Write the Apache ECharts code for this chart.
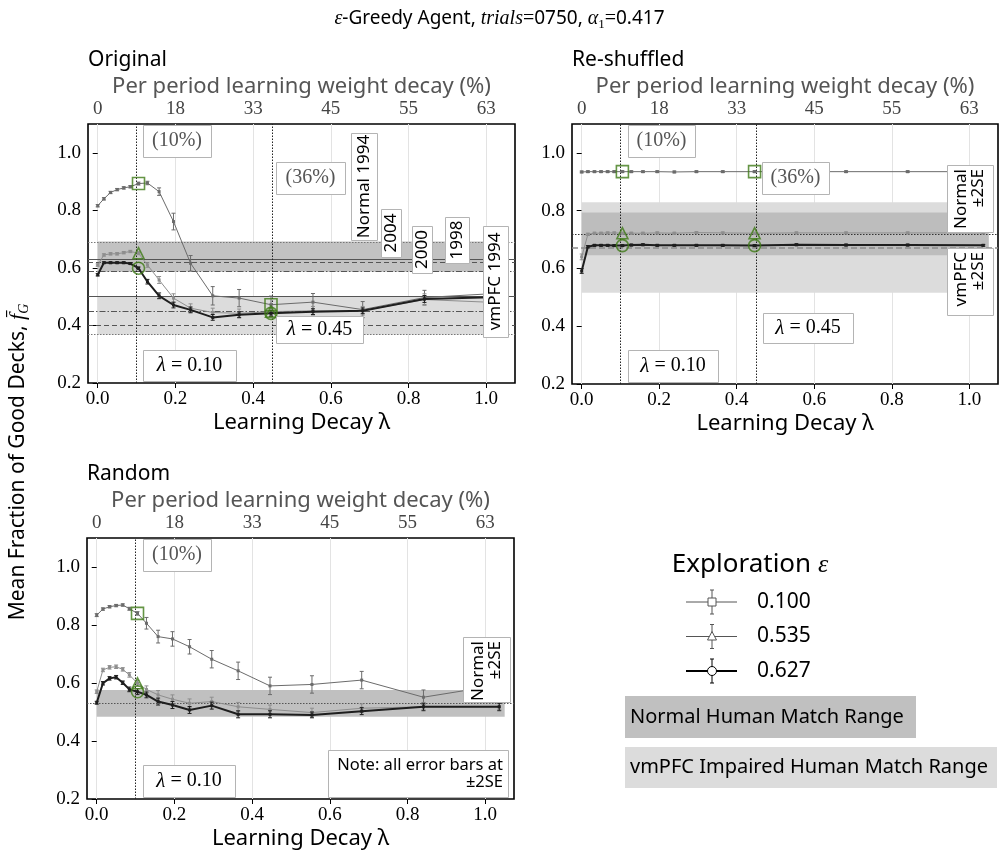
<!DOCTYPE html>
<html>
<head>
<meta charset="utf-8">
<script src="https://cdn.jsdelivr.net/npm/echarts@6/dist/echarts.min.js"></script>
<style>
  html, body { margin: 0; padding: 0; background: #fff; }
  #c { width: 999px; height: 859px; }
</style>
</head>
<body>
<div id="c"></div>
<script>
const SANS = '"Noto Sans", "DejaVu Sans", sans-serif';
const SERIF = '"Liberation Serif", "DejaVu Serif", serif';
const GREEN = '#3f7a16';

// Learning decay values (lambda) shared by all three deck conditions
const lambdas = [0, 0.016, 0.033, 0.05, 0.067, 0.084, 0.105, 0.128, 0.158, 0.195, 0.239, 0.296, 0.364, 0.446, 0.554, 0.682, 0.841, 1.036];
const xTicks = [0, 0.2, 0.4, 0.6, 0.8, 1.0];
const topTickLabels = ['0', '18', '33', '45', '55', '63'];
const yTicks = [0.2, 0.4, 0.6, 0.8, 1.0];
const epsilonLabels = ['0.100', '0.535', '0.627'];
const panelTitles = ['Original', 'Re-shuffled', 'Random'];

// Original deck order
const origEps100 = [0.816, 0.840, 0.862, 0.872, 0.878, 0.882, 0.893, 0.895, 0.865, 0.761, 0.616, 0.503, 0.495, 0.472, 0.481, 0.455, 0.497, 0.512];
const origEps100Err = [0.004, 0.004, 0.004, 0.004, 0.004, 0.004, 0.005, 0.006, 0.013, 0.029, 0.027, 0.032, 0.030, 0.030, 0.030, 0.028, 0.025, 0.020];
const origEps535 = [0.610, 0.645, 0.649, 0.649, 0.653, 0.657, 0.651, 0.610, 0.558, 0.495, 0.460, 0.445, 0.442, 0.448, 0.451, 0.451, 0.490, 0.479];
const origEps535Err = [0.004, 0.004, 0.004, 0.004, 0.004, 0.004, 0.005, 0.008, 0.012, 0.015, 0.015, 0.015, 0.015, 0.015, 0.015, 0.015, 0.020, 0.015];
const origEps627 = [0.576, 0.618, 0.618, 0.618, 0.618, 0.615, 0.599, 0.552, 0.503, 0.471, 0.454, 0.428, 0.437, 0.442, 0.448, 0.451, 0.492, 0.499];
const origEps627Err = [0.004, 0.003, 0.003, 0.003, 0.003, 0.003, 0.004, 0.008, 0.010, 0.010, 0.010, 0.010, 0.010, 0.010, 0.010, 0.010, 0.012, 0.010];
const origNormalBand = [0.587, 0.692];
const origVmpfcBand = [0.368, 0.499];
const origNormalLines = [0.630, 0.622, 0.595];   // 1994, 2004, 2000
const origVmpfcLines = [0.499, 0.447, 0.398];    // 1994, 1998, 2004

// Re-shuffled deck order
const reshEps100 = [0.934, 0.935, 0.935, 0.935, 0.935, 0.935, 0.935, 0.935, 0.935, 0.935, 0.934, 0.935, 0.935, 0.935, 0.935, 0.935, 0.935, 0.935];
const reshEps100Err = [0.003, 0.003, 0.003, 0.003, 0.003, 0.003, 0.003, 0.003, 0.003, 0.003, 0.003, 0.003, 0.003, 0.003, 0.003, 0.003, 0.003, 0.003];
const reshEps535 = [0.640, 0.718, 0.722, 0.722, 0.723, 0.723, 0.722, 0.722, 0.722, 0.723, 0.722, 0.724, 0.723, 0.722, 0.723, 0.723, 0.723, 0.723];
const reshEps535Err = [0.010, 0.004, 0.003, 0.003, 0.003, 0.003, 0.003, 0.003, 0.003, 0.003, 0.003, 0.003, 0.003, 0.003, 0.003, 0.003, 0.003, 0.003];
const reshEps627 = [0.591, 0.675, 0.680, 0.680, 0.680, 0.679, 0.679, 0.681, 0.682, 0.680, 0.680, 0.680, 0.680, 0.679, 0.682, 0.681, 0.681, 0.680];
const reshEps627Err = [0.008, 0.004, 0.003, 0.003, 0.003, 0.003, 0.003, 0.003, 0.003, 0.003, 0.003, 0.003, 0.003, 0.003, 0.003, 0.003, 0.003, 0.003];
const reshNormalBand = [0.646, 0.794];
const reshVmpfcBand = [0.516, 0.829];
const reshNormalMean = 0.721;
const reshVmpfcMean = 0.672;

// Random deck order
const randEps100 = [0.834, 0.855, 0.863, 0.867, 0.869, 0.856, 0.840, 0.806, 0.760, 0.752, 0.725, 0.682, 0.642, 0.590, 0.595, 0.610, 0.551, 0.593];
const randEps100Err = [0.005, 0.004, 0.004, 0.004, 0.004, 0.005, 0.006, 0.020, 0.022, 0.025, 0.025, 0.030, 0.030, 0.030, 0.030, 0.030, 0.025, 0.030];
const randEps535 = [0.570, 0.645, 0.654, 0.656, 0.647, 0.628, 0.599, 0.578, 0.559, 0.544, 0.530, 0.536, 0.518, 0.509, 0.498, 0.513, 0.518, 0.518];
const randEps535Err = [0.006, 0.006, 0.006, 0.006, 0.006, 0.008, 0.010, 0.012, 0.015, 0.015, 0.015, 0.015, 0.015, 0.015, 0.015, 0.015, 0.015, 0.015];
const randEps627 = [0.532, 0.599, 0.616, 0.620, 0.601, 0.578, 0.570, 0.559, 0.536, 0.524, 0.507, 0.522, 0.492, 0.492, 0.490, 0.503, 0.518, 0.518];
const randEps627Err = [0.005, 0.006, 0.006, 0.006, 0.006, 0.008, 0.010, 0.010, 0.012, 0.012, 0.012, 0.012, 0.012, 0.012, 0.010, 0.012, 0.012, 0.012];
const randNormalBand = [0.484, 0.576];
const randNormalMean = 0.528;

const bandSpan = [0, 1.05];
const highlightLambdas = [0.105, 0.446];

const seriesStyles = [
  { color: '#6b6b6b', width: 1, mark: 'rect', markSize: 12 },
  { color: '#8e8e8e', width: 1, mark: 'triangle', markSize: 11 },
  { color: '#1e1e1e', width: 2, mark: 'circle', markSize: 12 }
];

const DASH = [5, 3];
const DASHDOT = [6, 2, 1.5, 2];
const DOT = [1.5, 1.5];

const panels = [
  {
    grid: { left: 88, top: 124, width: 427, height: 259 },
    data: [[origEps100, origEps100Err], [origEps535, origEps535Err], [origEps627, origEps627Err]],
    marks: highlightLambdas,
    bands: [
      { r: origVmpfcBand, color: '#dcdcdc' },
      { r: origNormalBand, color: '#c2c2c2' }
    ],
    lines: [
      { v: origNormalBand[1], type: DOT, color: '#777' },
      { v: origNormalLines[0], type: 'solid', color: '#555' },
      { v: origNormalLines[1], type: DASH, color: '#555' },
      { v: origNormalLines[2], type: DASHDOT, color: '#555' },
      { v: origVmpfcLines[0], type: 'solid', color: '#555' },
      { v: origVmpfcLines[1], type: DASHDOT, color: '#555' },
      { v: origVmpfcLines[2], type: DASH, color: '#555' },
      { v: origVmpfcBand[0], type: DOT, color: '#777' }
    ]
  },
  {
    grid: { left: 572, top: 124, width: 426, height: 260 },
    data: [[reshEps100, reshEps100Err], [reshEps535, reshEps535Err], [reshEps627, reshEps627Err]],
    marks: highlightLambdas,
    bands: [
      { r: reshVmpfcBand, color: '#dcdcdc' },
      { r: reshNormalBand, color: '#bdbdbd' }
    ],
    lines: [
      { v: reshNormalMean, type: DOT, color: '#333' },
      { v: reshVmpfcMean, type: [6, 3], color: '#8a8a8a', width: 1.5 }
    ]
  },
  {
    grid: { left: 87, top: 538, width: 427, height: 261 },
    data: [[randEps100, randEps100Err], [randEps535, randEps535Err], [randEps627, randEps627Err]],
    marks: [highlightLambdas[0]],
    bands: [
      { r: randNormalBand, color: '#c0c0c0' }
    ],
    lines: [
      { v: randNormalMean, type: DOT, color: '#555' }
    ]
  }
];

const grids = [], xAxes = [], yAxes = [], series = [];

panels.forEach((p, i) => {
  grids.push(Object.assign({ show: true, borderColor: '#000', borderWidth: 1.6, backgroundColor: 'transparent', outerBoundsMode: 'none', containLabel: false }, p.grid));
  // bottom axis: lambda
  xAxes.push({
    type: 'value', gridIndex: i, position: 'bottom', min: -0.025, max: 1.074,
    axisLine: { show: false },
    axisTick: { show: true, customValues: xTicks, length: 5, lineStyle: { color: '#000', width: 1 } },
    axisLabel: { customValues: xTicks, formatter: v => v.toFixed(1), fontFamily: SERIF, fontSize: 19, color: '#000', margin: 7 },
    splitLine: { show: true, lineStyle: { color: '#e3e3e3', width: 1 } },
    name: 'Learning Decay λ', nameLocation: 'middle', nameGap: 29,
    nameTextStyle: { fontFamily: SANS, fontSize: 22, color: '#000' }
  });
  // top axis: per-period weight decay in percent
  xAxes.push({
    type: 'value', gridIndex: i, position: 'top', min: -0.025, max: 1.074,
    axisLine: { show: false },
    axisTick: { show: false },
    axisLabel: {
      customValues: xTicks,
      formatter: v => { const k = xTicks.findIndex(t => Math.abs(t - v) < 1e-6); return k >= 0 ? topTickLabels[k] : ''; },
      fontFamily: SERIF, fontSize: 19, color: '#444', margin: 5
    },
    splitLine: { show: false },
    name: 'Per period learning weight decay (%)', nameLocation: 'middle', nameGap: 26,
    nameTextStyle: { fontFamily: SANS, fontSize: 22, color: '#555' }
  });
  yAxes.push({
    type: 'value', gridIndex: i, min: 0.2, max: 1.1,
    axisLine: { show: false },
    axisTick: { show: true, customValues: yTicks, length: 5, lineStyle: { color: '#000', width: 1 } },
    axisLabel: { customValues: yTicks, formatter: v => v.toFixed(1), fontFamily: SERIF, fontSize: 19, color: '#000', margin: 7 },
    splitLine: { show: false }
  });

  const xi = 2 * i;
  // reference bands and lines
  series.push({
    type: 'line', xAxisIndex: xi, yAxisIndex: i, data: [], z: 1, silent: true, animation: false,
    markArea: {
      silent: true, z: 1, animation: false,
      data: p.bands.map(b => [
        { xAxis: bandSpan[0], yAxis: b.r[0], itemStyle: { color: b.color, borderWidth: 0 } },
        { xAxis: bandSpan[1], yAxis: b.r[1] }
      ])
    },
    markLine: {
      silent: true, z: 2, animation: false, symbol: ['none', 'none'], label: { show: false },
      data: p.lines.map(l => ({ yAxis: l.v, lineStyle: { type: l.type, color: l.color, width: l.width || 1 } }))
        .concat(p.marks.map(m => ({ xAxis: m, lineStyle: { type: DOT, color: '#222', width: 1 } })))
    }
  });

  p.data.forEach(([vals, errs], s) => {
    const st = seriesStyles[s];
    series.push({
      type: 'custom', xAxisIndex: xi, yAxisIndex: i, z: 3 + s, silent: true, animation: false,
      data: lambdas.map((x, k) => [x, vals[k], errs[k]]),
      encode: { x: 0, y: 1 },
      renderItem(params, api) {
        const x = api.value(0), y = api.value(1), e = api.value(2);
        const hi = api.coord([x, y + e]), lo = api.coord([x, y - e]);
        const c = 2;
        const ls = { stroke: st.color, lineWidth: 1 };
        return {
          type: 'group', children: [
            { type: 'line', shape: { x1: hi[0], y1: hi[1], x2: lo[0], y2: lo[1] }, style: ls },
            { type: 'line', shape: { x1: hi[0] - c, y1: hi[1], x2: hi[0] + c, y2: hi[1] }, style: ls },
            { type: 'line', shape: { x1: lo[0] - c, y1: lo[1], x2: lo[0] + c, y2: lo[1] }, style: ls }
          ]
        };
      }
    });
    series.push({
      type: 'line', name: epsilonLabels[s], xAxisIndex: xi, yAxisIndex: i, z: 3 + s, silent: true, animation: false,
      data: lambdas.map((x, k) => [x, vals[k]]),
      symbol: 'rect', symbolSize: 3, showSymbol: true,
      lineStyle: { color: st.color, width: st.width },
      itemStyle: { color: st.color }
    });
    series.push({
      type: 'scatter', xAxisIndex: xi, yAxisIndex: i, z: 8, silent: true, animation: false,
      symbol: st.mark, symbolSize: st.markSize,
      itemStyle: { color: 'rgba(0,0,0,0)', borderColor: GREEN, borderWidth: 1.6 },
      data: p.marks.map(m => { const k = lambdas.indexOf(m); return [m, vals[k]]; })
    });
  });
});

// annotation boxes: [left, top, width, height], text, options
function boxText(r, text, opt) {
  opt = opt || {};
  const els = [{
    type: 'rect', z: 20,
    shape: { x: r[0] + 0.5, y: r[1] + 0.5, width: r[2], height: r[3] },
    style: { fill: '#fff', stroke: '#b4b4b4', lineWidth: 1 }
  }];
  const style = {
    text: text, fill: opt.color || '#000',
    fontFamily: opt.font || SANS, fontSize: opt.size || 17,
    align: 'center', verticalAlign: 'middle'
  };
  if (opt.rich) style.rich = opt.rich;
  const t = { type: 'text', z: 21, style: style };
  if (opt.rot) {
    t.rotation = Math.PI / 2;
    if (opt.topAnchor) {
      t.x = r[0] + r[2] / 2; t.y = r[1] + 4;
      style.align = 'right';
    } else {
      t.x = r[0] + r[2] / 2; t.y = r[1] + r[3] / 2;
    }
  } else if (opt.rightAlign) {
    t.x = r[0] + r[2] - 5; t.y = r[1] + r[3] / 2;
    style.align = 'right';
  } else {
    t.x = r[0] + r[2] / 2; t.y = r[1] + r[3] / 2;
  }
  els.push(t);
  return els;
}

const lamRich = {
  i: { fontFamily: SERIF, fontStyle: 'italic', fontSize: 21, color: '#000' },
  n: { fontFamily: SERIF, fontSize: 20, color: '#000' }
};
const pct = { font: SERIF, size: 20, color: '#555' };

let graphics = [];
// Original
graphics = graphics.concat(
  boxText([143, 125, 68, 32], '(10%)', pct),
  boxText([276, 162, 69, 32], '(36%)', pct),
  boxText([143, 350, 93, 31], '{i|λ}{n| = 0.10}', { rich: lamRich }),
  boxText([276, 316, 87, 27], '{i|λ}{n| = 0.45}', { rich: lamRich }),
  boxText([351, 133, 26, 107], 'Normal 1994', { rot: true }),
  boxText([381, 209, 20, 48], '2004', { rot: true }),
  boxText([412, 226, 20, 47], '2000', { rot: true }),
  boxText([445, 217, 24, 46], '1998', { rot: true }),
  boxText([483, 226, 25, 111], 'vmPFC 1994', { rot: true })
);
// Re-shuffled
graphics = graphics.concat(
  boxText([628, 125, 67, 32], '(10%)', pct),
  boxText([762, 162, 67, 32], '(36%)', pct),
  boxText([628, 350, 90, 32], '{i|λ}{n| = 0.10}', { rich: lamRich }),
  boxText([763, 313, 90, 30], '{i|λ}{n| = 0.45}', { rich: lamRich }),
  boxText([947, 165, 46, 67], 'Normal\n±2SE', { rot: true, topAnchor: true }),
  boxText([947, 248, 46, 67], 'vmPFC\n±2SE', { rot: true, topAnchor: true })
);
// Random
graphics = graphics.concat(
  boxText([143, 539, 68, 32], '(10%)', pct),
  boxText([143, 765, 92, 32], '{i|λ}{n| = 0.10}', { rich: lamRich }),
  boxText([463, 637, 47, 65], 'Normal\n±2SE', { rot: true, topAnchor: true }),
  boxText([328, 750, 180, 47], 'Note: all error bars at\n±2SE', { rightAlign: true, size: 16.5 })
);

// panel titles
const titlePos = [[88, 60], [572, 60], [87, 474]];
panelTitles.forEach((t, i) => {
  graphics.push({ type: 'text', x: titlePos[i][0], y: titlePos[i][1], style: { text: t, fontFamily: SANS, fontSize: 21, fill: '#000', align: 'left', verticalAlign: 'middle' } });
});

// shared y-axis title
graphics.push({
  type: 'text', x: 18, y: 462, rotation: Math.PI / 2,
  style: {
    text: '{n|Mean Fraction of Good Decks, }{i|f̄}{s|G}',
    align: 'center', verticalAlign: 'middle',
    rich: {
      n: { fontFamily: SANS, fontSize: 21, fill: '#000', lineHeight: 26 },
      i: { fontFamily: SERIF, fontStyle: 'italic', fontSize: 22, fill: '#000', lineHeight: 26 },
      s: { fontFamily: SERIF, fontStyle: 'italic', fontSize: 14, fill: '#000', lineHeight: 16, verticalAlign: 'bottom' }
    }
  }
});

// legend for exploration rates
graphics.push({ type: 'text', x: 750, y: 565, style: {
  text: '{n|Exploration }{i|ε}', align: 'center', verticalAlign: 'middle',
  rich: { n: { fontFamily: SANS, fontSize: 26, fill: '#000' }, i: { fontFamily: SERIF, fontStyle: 'italic', fontSize: 26, fill: '#000' } }
} });
epsilonLabels.forEach((lab, k) => {
  const st = seriesStyles[k];
  const y = 602 + 34.5 * k, x = 712;
  const ls = { stroke: st.color === '#1e1e1e' ? '#000' : '#555', lineWidth: st.width };
  graphics.push({ type: 'line', shape: { x1: 686, y1: y, x2: 737, y2: y }, style: ls });
  const es = { stroke: ls.stroke, lineWidth: 1 };
  graphics.push({ type: 'line', shape: { x1: x, y1: y - 12, x2: x, y2: y + 12 }, style: es });
  graphics.push({ type: 'line', shape: { x1: x - 2, y1: y - 12, x2: x + 2, y2: y - 12 }, style: es });
  graphics.push({ type: 'line', shape: { x1: x - 2, y1: y + 12, x2: x + 2, y2: y + 12 }, style: es });
  const ms = { fill: '#fff', stroke: ls.stroke, lineWidth: 1 };
  if (st.mark === 'rect') graphics.push({ type: 'rect', shape: { x: x - 4, y: y - 4, width: 8, height: 8 }, style: ms });
  else if (st.mark === 'triangle') graphics.push({ type: 'polygon', shape: { points: [[x, y - 5], [x + 4.5, y + 3.5], [x - 4.5, y + 3.5]] }, style: ms });
  else graphics.push({ type: 'circle', shape: { cx: x, cy: y, r: 4.5 }, style: ms });
  graphics.push({ type: 'text', x: 757, y: y, style: { text: lab, fontFamily: SANS, fontSize: 21, fill: '#000', align: 'left', verticalAlign: 'middle' } });
});
graphics.push({ type: 'rect', shape: { x: 625, y: 696, width: 291, height: 42 }, style: { fill: '#c0c0c0' } });
graphics.push({ type: 'text', x: 630, y: 717, style: { text: 'Normal Human Match Range', fontFamily: SANS, fontSize: 20, fill: '#000', align: 'left', verticalAlign: 'middle' } });
graphics.push({ type: 'rect', shape: { x: 625, y: 747, width: 372, height: 41 }, style: { fill: '#dcdcdc' } });
graphics.push({ type: 'text', x: 630, y: 767, style: { text: 'vmPFC Impaired Human Match Range', fontFamily: SANS, fontSize: 20, fill: '#000', align: 'left', verticalAlign: 'middle' } });

const chart = echarts.init(document.getElementById('c'), null, { renderer: 'canvas', width: 999, height: 859 });
chart.setOption({
  animation: false,
  backgroundColor: '#fff',
  title: {
    text: '{i|ε}{n|-Greedy Agent, }{i|trials}{m|=}{n|0750, }{i|α}{s|1}{m|=}{n|0.417}',
    left: 'center', top: 2,
    textStyle: {
      fontWeight: 'normal',
      rich: {
        n: { fontFamily: SANS, fontSize: 19, fontWeight: 'normal', color: '#000', lineHeight: 24 },
        m: { fontFamily: SERIF, fontSize: 20, fontWeight: 'normal', color: '#000', lineHeight: 24 },
        i: { fontFamily: SERIF, fontStyle: 'italic', fontWeight: 'normal', fontSize: 20, color: '#000', lineHeight: 24 },
        s: { fontFamily: SERIF, fontSize: 13, fontWeight: 'normal', color: '#000', lineHeight: 15, verticalAlign: 'bottom' }
      }
    }
  },
  grid: grids,
  xAxis: xAxes,
  yAxis: yAxes,
  series: series,
  graphic: { elements: graphics }
});
</script>
</body>
</html>
